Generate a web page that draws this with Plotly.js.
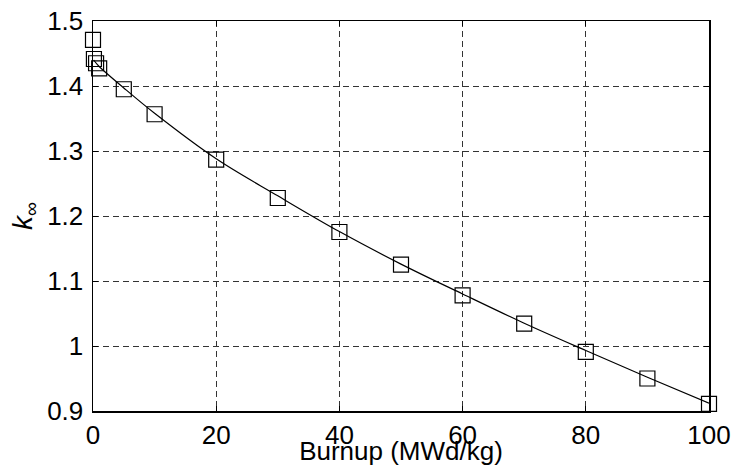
<!DOCTYPE html>
<html>
<head>
<meta charset="utf-8">
<script src="https://cdn.plot.ly/plotly-3.0.1.min.js"></script>
<style>html,body{margin:0;padding:0;background:#fff;}#chart{width:733px;height:466px;}</style>
</head>
<body>
<div id="chart"></div>
<script>
// Markers (data points)
const burnup = [0, 0.15, 0.5, 1, 5, 10, 20, 30, 40, 50, 60, 70, 80, 90, 100];
const kinf   = [1.471, 1.4415, 1.435, 1.427, 1.395, 1.3565, 1.2867, 1.2277, 1.1754, 1.1252, 1.078, 1.0345, 0.991, 0.950, 0.911];
// Fitted curve
const fitX = [0.1, 1, 5, 10, 20, 30, 40, 50, 60, 70, 80, 90, 100];
const fitY = [1.440, 1.430, 1.397, 1.358, 1.288, 1.231, 1.176, 1.126, 1.080, 1.035, 0.993, 0.952, 0.912];
const xTicks = [0, 20, 40, 60, 80, 100];
const yTicks = [0.9, 1, 1.1, 1.2, 1.3, 1.4, 1.5];
const yTickText = ['0.9', '1', '1.1', '1.2', '1.3', '1.4', '1.5'];

const font = 'Liberation Sans, Arial, Helvetica, sans-serif';

const traces = [
  {
    x: fitX, y: fitY, type: 'scatter', mode: 'lines',
    line: {color: '#000', width: 1.2, shape: 'spline'},
    hoverinfo: 'skip', showlegend: false
  },
  {
    x: burnup, y: kinf, type: 'scatter', mode: 'markers',
    marker: {symbol: 'square-open', size: 15, color: '#000', line: {width: 1.2, color: '#000'}},
    cliponaxis: false, showlegend: false
  }
];

const layout = {
  width: 733, height: 466,
  margin: {l: 93, r: 24, t: 21, b: 55, pad: 0},
  paper_bgcolor: '#fff', plot_bgcolor: '#fff',
  font: {family: font, size: 26, color: '#000'},
  showlegend: false,
  xaxis: {
    range: [0, 100], tickvals: xTicks, ticktext: xTicks.map(String),
    showgrid: true, gridcolor: '#333', griddash: '6px,4px', gridwidth: 1,
    zeroline: false, showline: true, linecolor: '#000', linewidth: 1.5, mirror: 'ticks',
    ticks: 'inside', ticklen: 5, tickcolor: '#000',
    tickfont: {family: font, size: 26, color: '#000'},
    ticklabelstandoff: 0,
    title: {text: 'Burnup (MWd/kg)', font: {family: font, size: 26, color: '#000'}, standoff: 0},
    automargin: false
  },
  yaxis: {
    range: [0.9, 1.5], tickvals: yTicks, ticktext: yTickText,
    showgrid: true, gridcolor: '#333', griddash: '6px,4px', gridwidth: 1,
    zeroline: false, showline: true, linecolor: '#000', linewidth: 1.5, mirror: 'ticks',
    ticks: 'inside', ticklen: 5, tickcolor: '#000',
    tickfont: {family: font, size: 26, color: '#000'},
    ticklabelstandoff: 3,
    title: {text: '<i>k</i><sub>∞</sub>', font: {family: font, size: 28, color: '#000'}, standoff: 6},
    automargin: false
  }
};

Plotly.newPlot('chart', traces, layout, {staticPlot: true, displayModeBar: false});
</script>
</body>
</html>
